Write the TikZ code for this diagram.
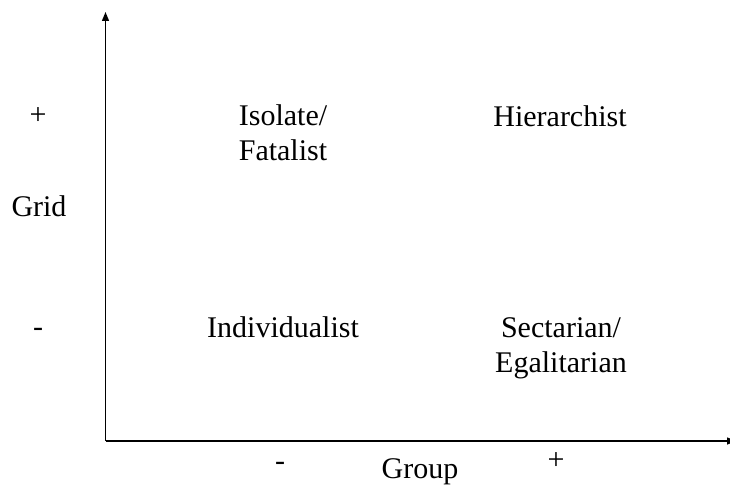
\documentclass[tikz,border=0pt]{standalone}
\usepackage{fontspec}
\setmainfont{Liberation Serif}
\usetikzlibrary{arrows.meta}

\begin{document}
\begin{tikzpicture}[
  x=1pt, y=-1pt,
  label/.style={font=\fontsize{30}{35}\selectfont, align=center, anchor=base, inner sep=0pt},
  axis/.style={-{Triangle[length=9pt, width=7pt]}, line width=1.4pt}
]
\useasboundingbox (0,0) rectangle (730,487);

\coordinate (origin) at (105.5,441);
\coordinate (ytop) at (105.5,12);
\coordinate (xend) at (736,441);

\node[label] (gridplus) at (38,124) {+};
\node[label] (gridname) at (39,216) {Grid};
\node[label] (gridminus) at (38,336) {-};

\node[label] (fatalist) at (283,160) {Isolate/\\Fatalist};
\node[label] (hierarchist) at (560,126) {Hierarchist};
\node[label] (individualist) at (283,337) {Individualist};
\node[label] (egalitarian) at (561,372) {Sectarian/\\Egalitarian};

\node[label] (groupminus) at (280,470) {-};
\node[label] (groupname) at (420,478) {Group};
\node[label] (groupplus) at (556,469) {+};

\draw[axis] (origin) -- (ytop);
\draw[axis] (origin) -- (xend);
\end{tikzpicture}
\end{document}
